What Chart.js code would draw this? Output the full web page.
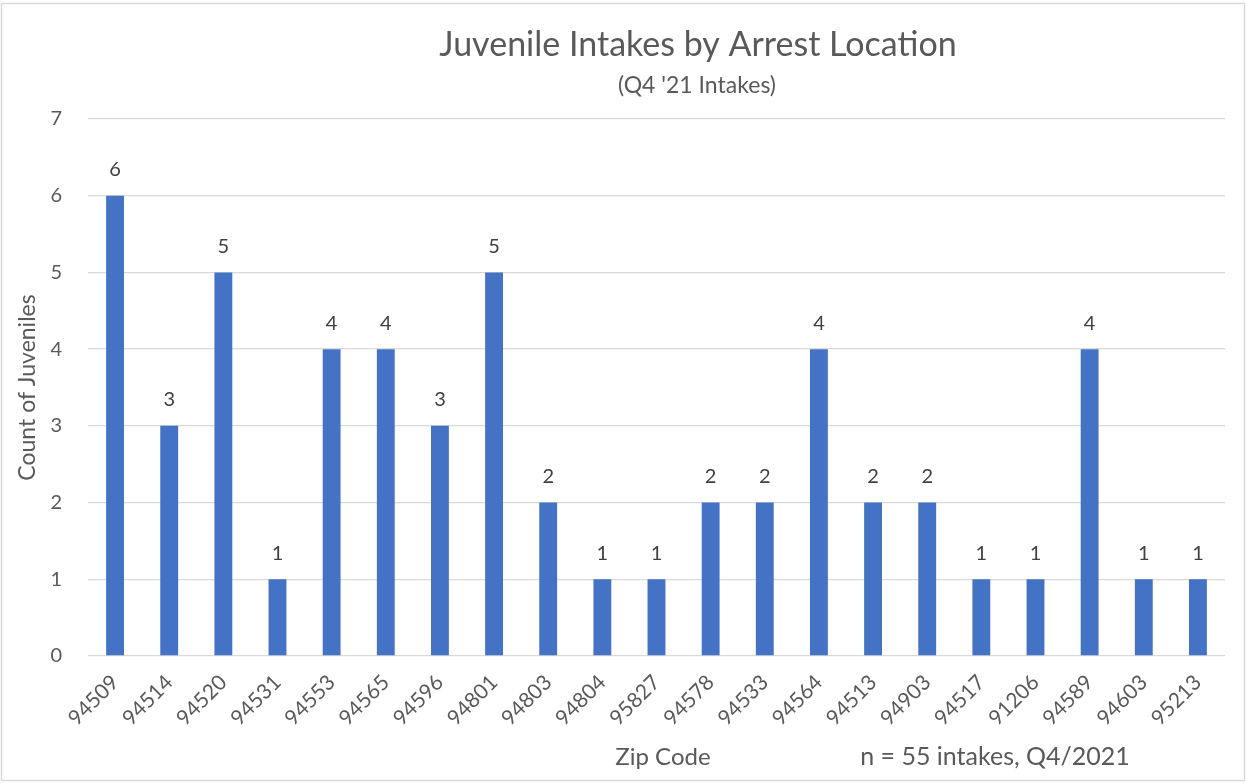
<!DOCTYPE html>
<html>
<head>
<meta charset="utf-8">
<script src="https://cdn.jsdelivr.net/npm/chart.js@4.4.0/dist/chart.umd.min.js"></script>
<style>
  html, body { margin: 0; padding: 0; background: #fff; }
  #wrap { width: 1247px; height: 784px; }
</style>
</head>
<body>
<div id="wrap"><canvas id="chart" width="1247" height="784"></canvas></div>
<script>
// Podaci sa grafikona
const zipCodes = ['94509', '94514', '94520', '94531', '94553', '94565', '94596', '94801', '94803', '94804', '95827',
                  '94578', '94533', '94564', '94513', '94903', '94517', '91206', '94589', '94603', '95213'];
const juvenileCounts = [6, 3, 5, 1, 4, 4, 3, 5, 2, 1, 1, 2, 2, 4, 2, 2, 1, 1, 4, 1, 1];
const yTicks = [0, 1, 2, 3, 4, 5, 6, 7];

const chartTitle = 'Juvenile Intakes by Arrest Location';
const chartSubtitle = "(Q4 '21 Intakes)";
const xTitle = 'Zip Code';
const noteText = 'n = 55 intakes, Q4/2021';

const FONT = 'Lato, "Open Sans", sans-serif';
const TEXT = '#595959';

// Okvir, naslovi i oznake iznad stubova
const decorPlugin = {
    id: 'decor',
    beforeDraw(chart) {
        const ctx = chart.ctx;
        ctx.save();
        ctx.fillStyle = '#fff';
        ctx.fillRect(0, 0, chart.width, chart.height);
        ctx.strokeStyle = '#D9D9D9';
        ctx.lineWidth = 1.5;
        ctx.strokeRect(1.5, 3.5, chart.width - 4, chart.height - 7);
        ctx.restore();
    },
    afterDatasetsDraw(chart) {
        const ctx = chart.ctx;
        ctx.save();
        ctx.textAlign = 'center';
        ctx.textBaseline = 'middle';

        ctx.fillStyle = TEXT;
        ctx.font = '34px ' + FONT;
        ctx.fillText(chartTitle, 698, 45);
        ctx.font = '23px ' + FONT;
        ctx.fillText(chartSubtitle, 697, 86);

        ctx.font = '24px ' + FONT;
        ctx.fillText(xTitle, 663, 757);
        ctx.font = '25px ' + FONT;
        ctx.fillText(noteText, 995, 757);

        // vrednosti iznad stubova
        ctx.fillStyle = '#404040';
        ctx.font = '20px ' + FONT;
        const meta = chart.getDatasetMeta(0);
        meta.data.forEach((bar, i) => {
            ctx.fillText(String(juvenileCounts[i]), bar.x, bar.y - 26);
        });
        ctx.restore();
    }
};

new Chart(document.getElementById('chart'), {
    type: 'bar',
    data: {
        labels: zipCodes,
        datasets: [{
            data: juvenileCounts,
            backgroundColor: '#4472C4',
            borderWidth: 0,
            categoryPercentage: 1,
            barPercentage: 0.33
        }]
    },
    options: {
        responsive: false,
        animation: false,
        layout: { padding: { top: 119, left: 12, right: 22, bottom: 0 } },
        plugins: {
            legend: { display: false },
            tooltip: { enabled: false }
        },
        scales: {
            x: {
                grid: { display: false, drawTicks: false },
                border: { display: false },
                ticks: {
                    color: TEXT,
                    font: { family: FONT, size: 21 },
                    minRotation: 45,
                    maxRotation: 45,
                    padding: 14,
                    autoSkip: false
                },
                afterFit(scale) { scale.height = 784 - 656; }
            },
            y: {
                min: 0,
                max: 7,
                grid: { color: '#D9D9D9', lineWidth: 1.3, drawTicks: false },
                border: { display: false },
                afterBuildTicks(scale) { scale.ticks = yTicks.map(v => ({ value: v })); },
                ticks: {
                    color: TEXT,
                    font: { family: FONT, size: 20 },
                    padding: 26
                },
                title: {
                    display: true,
                    text: 'Count of Juveniles',
                    color: TEXT,
                    font: { family: FONT, size: 23 },
                    padding: 2
                },
                afterFit(scale) { scale.width = 88 - 12; }
            }
        }
    },
    plugins: [decorPlugin]
});
</script>
</body>
</html>
